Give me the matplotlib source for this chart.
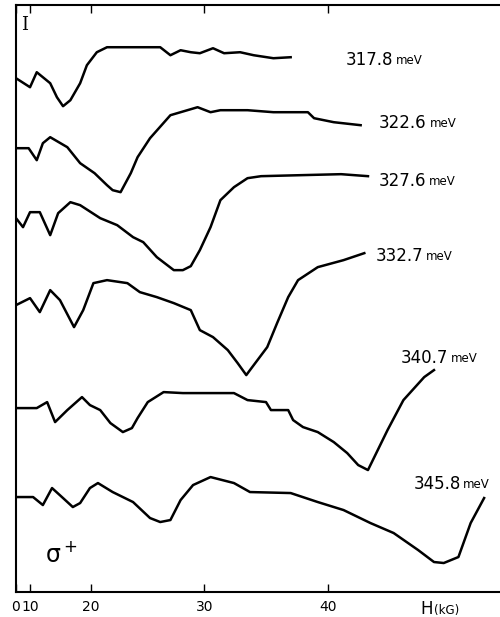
import matplotlib
matplotlib.use("Agg")
import matplotlib.pyplot as plt
import numpy as np

# magnetic field H (kG) and intensity I (arb. units, traces offset as in the figure)
h_3178 = [0, 10, 11.1, 13.3, 14.4, 15.4, 16.6, 18.2, 19.3, 20.5, 21.4, 22.6, 26.1,
          27.0, 27.9, 28.8, 29.6, 30.7, 31.6, 32.9, 34.0, 35.6, 37.0]
i_3178 = [514, 505, 520, 509, 495, 486, 492, 509, 527, 540, 545, 545, 545,
          537, 542, 540, 539, 544, 539, 540, 537, 534, 535]

h_3226 = [0, 9.0, 11.1, 12.1, 13.3, 16.1, 18.2, 20.3, 21.4, 21.9, 22.6, 23.5, 24.1,
          25.2, 27.0, 27.9, 29.4, 30.5, 31.3, 33.5, 35.6, 38.4, 38.9, 40.5, 42.7]
i_3226 = [444, 444, 432, 449, 455, 445, 429, 419, 407, 402, 400, 419, 435,
          454, 477, 480, 485, 480, 482, 482, 480, 480, 474, 470, 467]

h_3276 = [0, 5, 10, 11.6, 13.3, 14.6, 16.6, 18.2, 20.8, 22.3, 23.7, 24.6, 25.8,
          27.3, 28.1, 28.8, 29.6, 30.5, 31.3, 32.4, 33.5, 34.6, 37.8, 41.1, 43.3]
i_3276 = [374, 365, 380, 380, 357, 379, 390, 387, 374, 367, 355, 350, 335,
          322, 322, 326, 342, 365, 392, 405, 414, 416, 417, 418, 416]

h_3327 = [0, 10, 11.6, 13.3, 14.9, 17.2, 18.7, 20.2, 21.4, 23.2, 24.3, 25.8, 27.3,
          28.8, 29.6, 30.7, 31.9, 32.7, 33.4, 33.7, 35.1, 35.9, 36.8, 37.6, 39.2, 41.3, 43.0]
i_3327 = [287, 294, 280, 302, 292, 265, 282, 309, 312, 309, 300, 295, 289,
          282, 262, 255, 242, 229, 217, 222, 245, 269, 295, 312, 325, 332, 339]

h_3407 = [0, 11.1, 12.8, 14.1, 16.1, 18.5, 19.8, 20.8, 21.7, 22.8, 23.6, 24.1, 25.0,
          26.4, 28.1, 29.6, 31.1, 32.4, 33.5, 35.0, 35.4, 36.8, 37.2, 38.0, 39.2, 40.5,
          41.6, 42.5, 43.3, 44.1, 44.9, 46.2, 47.9, 48.7]
i_3407 = [184, 184, 190, 170, 182, 195, 187, 182, 169, 160, 164, 174, 190,
          200, 199, 199, 199, 199, 192, 190, 182, 182, 172, 165, 160, 150,
          139, 127, 122, 142, 162, 192, 215, 222]

h_3458 = [0, 10.5, 12.1, 13.6, 15.4, 17.0, 18.2, 19.8, 20.6, 21.9, 23.7, 25.2, 26.1,
          27.0, 27.9, 29.0, 30.5, 32.4, 33.7, 37.0, 39.2, 41.3, 43.5, 45.4, 47.4, 48.7,
          49.5, 50.7, 51.7, 52.8]
i_3458 = [95, 95, 87, 104, 94, 85, 89, 104, 109, 100, 90, 74, 70,
          72, 92, 107, 115, 109, 100, 99, 90, 82, 69, 59, 42, 30,
          29, 35, 69, 94]

energies = ["317.8", "322.6", "327.6", "332.7", "340.7", "345.8"]
traces = [(h_3178, i_3178), (h_3226, i_3226), (h_3276, i_3276),
          (h_3327, i_3327), (h_3407, i_3407), (h_3458, i_3458)]
label_h = [41.5, 44.2, 44.2, 43.9, 46.0, 47.0]
label_i = [532, 469, 411, 336, 234, 108]

# the field axis of the original is not evenly spaced
knot_kg = [-100, 0, 10, 20, 30, 40, 200]
knot_px = [16 - 140, 16, 30, 91, 204, 327, 327 + 12.2 * 160]


def fwd(x):
    return np.interp(x, knot_kg, knot_px)


def inv(x):
    return np.interp(x, knot_px, knot_kg)


fig = plt.figure(figsize=(5, 6.17), dpi=100)
ax = fig.add_axes([0.032, 0.0405, 0.968, 0.951])
ax.set_xscale('function', functions=(fwd, inv))

for (h, i) in traces:
    ax.plot(h, i, color='black', lw=1.8)

for e, x, y in zip(energies, label_h, label_i):
    t = ax.text(x, y, e, fontsize=12, ha='left', va='center')
    ax.annotate('meV', xy=(1, 0.12), xycoords=t, xytext=(2, 0),
                textcoords='offset points', fontsize=8.5, ha='left', va='bottom')

ax.text(6.4, 567, 'I', family='DejaVu Serif', fontsize=13, ha='center', va='center')
ax.text(12.5, 38, r'$\mathregular{\sigma^+}$', fontsize=17, ha='left', va='center')

ax.set_xlim(0, 54.1)
ax.set_ylim(0, 587)
ax.set_xticks([0, 10, 20, 30, 40])
ax.set_xticklabels(['0', '10', '20', '30', '40'])
ax.tick_params(axis='x', direction='in', top=True, length=6, width=1, labelsize=10, pad=6)
ax.set_yticks([])
ax.spines['right'].set_visible(False)
for s in ['left', 'top', 'bottom']:
    ax.spines[s].set_linewidth(1.5)

t = ax.annotate('H', xy=(47.6, 0), xycoords=('data', 'axes fraction'),
                xytext=(0, -6), textcoords='offset points',
                fontsize=12, ha='left', va='top')
ax.annotate('(kG)', xy=(1, 0.1), xycoords=t, xytext=(1, 0),
            textcoords='offset points', fontsize=8.5, ha='left', va='bottom')

plt.savefig('out.png', dpi=100)
